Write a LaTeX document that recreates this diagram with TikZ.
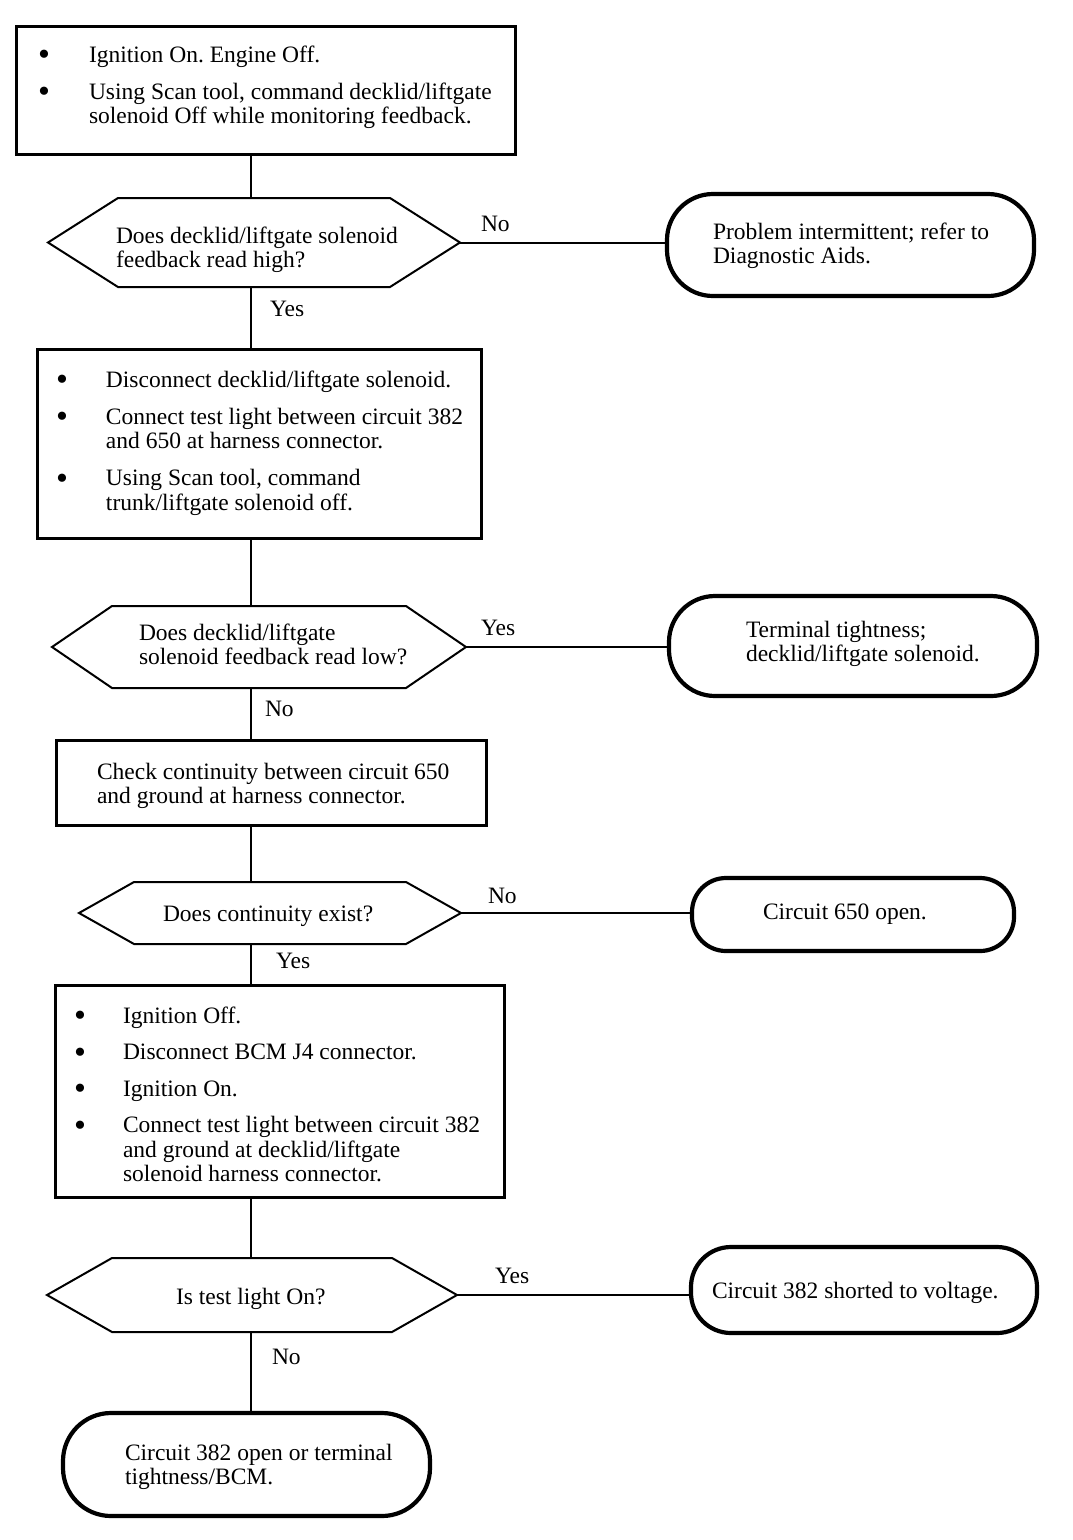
\documentclass[tikz,border=0pt]{standalone}
\usepackage{fontspec}
\setmainfont{Liberation Serif}
\frenchspacing
\newcommand\hexpath[2]{\draw[hexline] (#1.west) -- ([xshift=#2]#1.north west) -- ([xshift=-#2]#1.north east) -- (#1.east) -- ([xshift=-#2]#1.south east) -- ([xshift=#2]#1.south west) -- cycle;}
\newcommand\bigbul{\raisebox{-3.5pt}{\scalebox{1.45}{\textbullet}}}
\begin{document}
\begin{tikzpicture}[x=1pt,y=-1pt,
  every node/.style={font=\fontsize{23.5}{24.5}\selectfont, inner sep=0pt, outer sep=0pt},
  procbox/.style={draw, line width=3pt, rectangle},
  decision/.style={rectangle},
  hexline/.style={line width=2pt, line join=miter},
  term/.style={draw, line width=4.2pt, rectangle, rounded corners=#1},
  conn/.style={line width=2pt},
  txt/.style={anchor=base west},
  lbl/.style={anchor=base west}]
\useasboundingbox (0,0) rectangle (1072,1540);
\coordinate (spine) at (251,0);

% Box 1
\node[procbox, minimum width=499pt, minimum height=128pt] (box1) at (265.5,90) {};
\node[txt] (tx1) at (38,62) {\begin{tabular}[t]{@{}l@{}l@{}}\makebox[51pt][l]{\bigbul} & Ignition On. Engine Off.\\[12.5pt]
\bigbul & Using Scan tool, command decklid/liftgate\\ & solenoid Off while monitoring feedback.\end{tabular}};

% Hex 1
\node[decision, minimum width=412pt, minimum height=89pt] (h1) at (254,242.5) {};
\hexpath{h1}{70pt}
\node[txt] (th1) at (116,243) {\begin{tabular}[t]{@{}l@{}}Does decklid/liftgate solenoid\\ feedback read high?\end{tabular}};

% Terminal 1
\node[term=46pt, minimum width=367pt, minimum height=102pt] (t1) at (850.5,245) {};
\node[txt] (tt1) at (713,239) {\begin{tabular}[t]{@{}l@{}}Problem intermittent; refer to\\ Diagnostic Aids.\end{tabular}};

% Box 2
\node[procbox, minimum width=444pt, minimum height=189pt] (box2) at (259,443.5) {};
\node[txt] (tx2) at (56,387) {\begin{tabular}[t]{@{}l@{}l@{}}\makebox[50pt][l]{\bigbul} & Disconnect decklid/liftgate solenoid.\\[12.5pt]
\bigbul & Connect test light between circuit 382\\ & and 650 at harness connector.\\[12.5pt]
\bigbul & Using Scan tool, command\\ & trunk/liftgate solenoid off.\end{tabular}};

% Hex 2
\node[decision, minimum width=414pt, minimum height=82pt] (h2) at (259,647) {};
\hexpath{h2}{60pt}
\node[txt] (th2) at (139,640) {\begin{tabular}[t]{@{}l@{}}Does decklid/liftgate\\ solenoid feedback read low?\end{tabular}};

% Terminal 2
\node[term=46pt, minimum width=368pt, minimum height=100pt] (t2) at (853,646) {};
\node[txt] (tt2) at (746,637) {\begin{tabular}[t]{@{}l@{}}Terminal tightness;\\ decklid/liftgate solenoid.\end{tabular}};

% Box 3
\node[procbox, minimum width=430pt, minimum height=85pt] (box3) at (271,782.5) {};
\node[txt] (tx3) at (97,779) {\begin{tabular}[t]{@{}l@{}}Check continuity between circuit 650\\ and ground at harness connector.\end{tabular}};

% Hex 3
\node[decision, minimum width=382pt, minimum height=62pt] (h3) at (270,913) {};
\hexpath{h3}{55pt}
\node[txt] (th3) at (163,921) {Does continuity exist?};

% Terminal 3
\node[term=34pt, minimum width=322pt, minimum height=73pt] (t3) at (853,914.5) {};
\node[txt] (tt3) at (763,919) {Circuit 650 open.};

% Box 4
\node[procbox, minimum width=449pt, minimum height=212pt] (box4) at (279.5,1091) {};
\node[txt] (tx4) at (74,1023) {\begin{tabular}[t]{@{}l@{}l@{}}\makebox[49pt][l]{\bigbul} & Ignition Off.\\[12pt]
\bigbul & Disconnect BCM J4 connector.\\[12pt]
\bigbul & Ignition On.\\[12pt]
\bigbul & Connect test light between circuit 382\\ & and ground at decklid/liftgate\\ & solenoid harness connector.\end{tabular}};

% Hex 4
\node[decision, minimum width=410pt, minimum height=74pt] (h4) at (252,1295) {};
\hexpath{h4}{65pt}
\node[txt] (th4) at (176,1304) {Is test light On?};

% Terminal 4
\node[term=40pt, minimum width=346pt, minimum height=86pt] (t4) at (864,1290) {};
\node[txt] (tt4) at (712,1298) {Circuit 382 shorted to voltage.};

% Terminal 5
\node[term=48pt, minimum width=367pt, minimum height=103pt] (t5) at (246.5,1464.5) {};
\node[txt] (tt5) at (125,1460) {\begin{tabular}[t]{@{}l@{}}Circuit 382 open or terminal\\ tightness/BCM.\end{tabular}};

% Connectors
\draw[conn] (box1.south -| spine) -- (h1.north -| spine);
\draw[conn] (h1.south -| spine) -- (box2.north -| spine);
\draw[conn] (box2.south -| spine) -- (h2.north -| spine);
\draw[conn] (h2.south -| spine) -- (box3.north -| spine);
\draw[conn] (box3.south -| spine) -- (h3.north -| spine);
\draw[conn] (h3.south -| spine) -- (box4.north -| spine);
\draw[conn] (box4.south -| spine) -- (h4.north -| spine);
\draw[conn] (h4.south -| spine) -- (t5.north -| spine);
\draw[conn] (h1.east) -- (h1.east -| t1.west);
\draw[conn] (h2.east) -- (h2.east -| t2.west);
\draw[conn] (h3.east) -- (h3.east -| t3.west);
\draw[conn] (h4.east) -- (h4.east -| t4.west);

% Labels
\node[lbl] (l1) at (481,231) {No};
\node[lbl] (l2) at (270,316) {Yes};
\node[lbl] (l3) at (481,635) {Yes};
\node[lbl] (l4) at (265,716) {No};
\node[lbl] (l5) at (488,903) {No};
\node[lbl] (l6) at (276,968) {Yes};
\node[lbl] (l7) at (495,1283) {Yes};
\node[lbl] (l8) at (272,1364) {No};
\end{tikzpicture}
\end{document}
